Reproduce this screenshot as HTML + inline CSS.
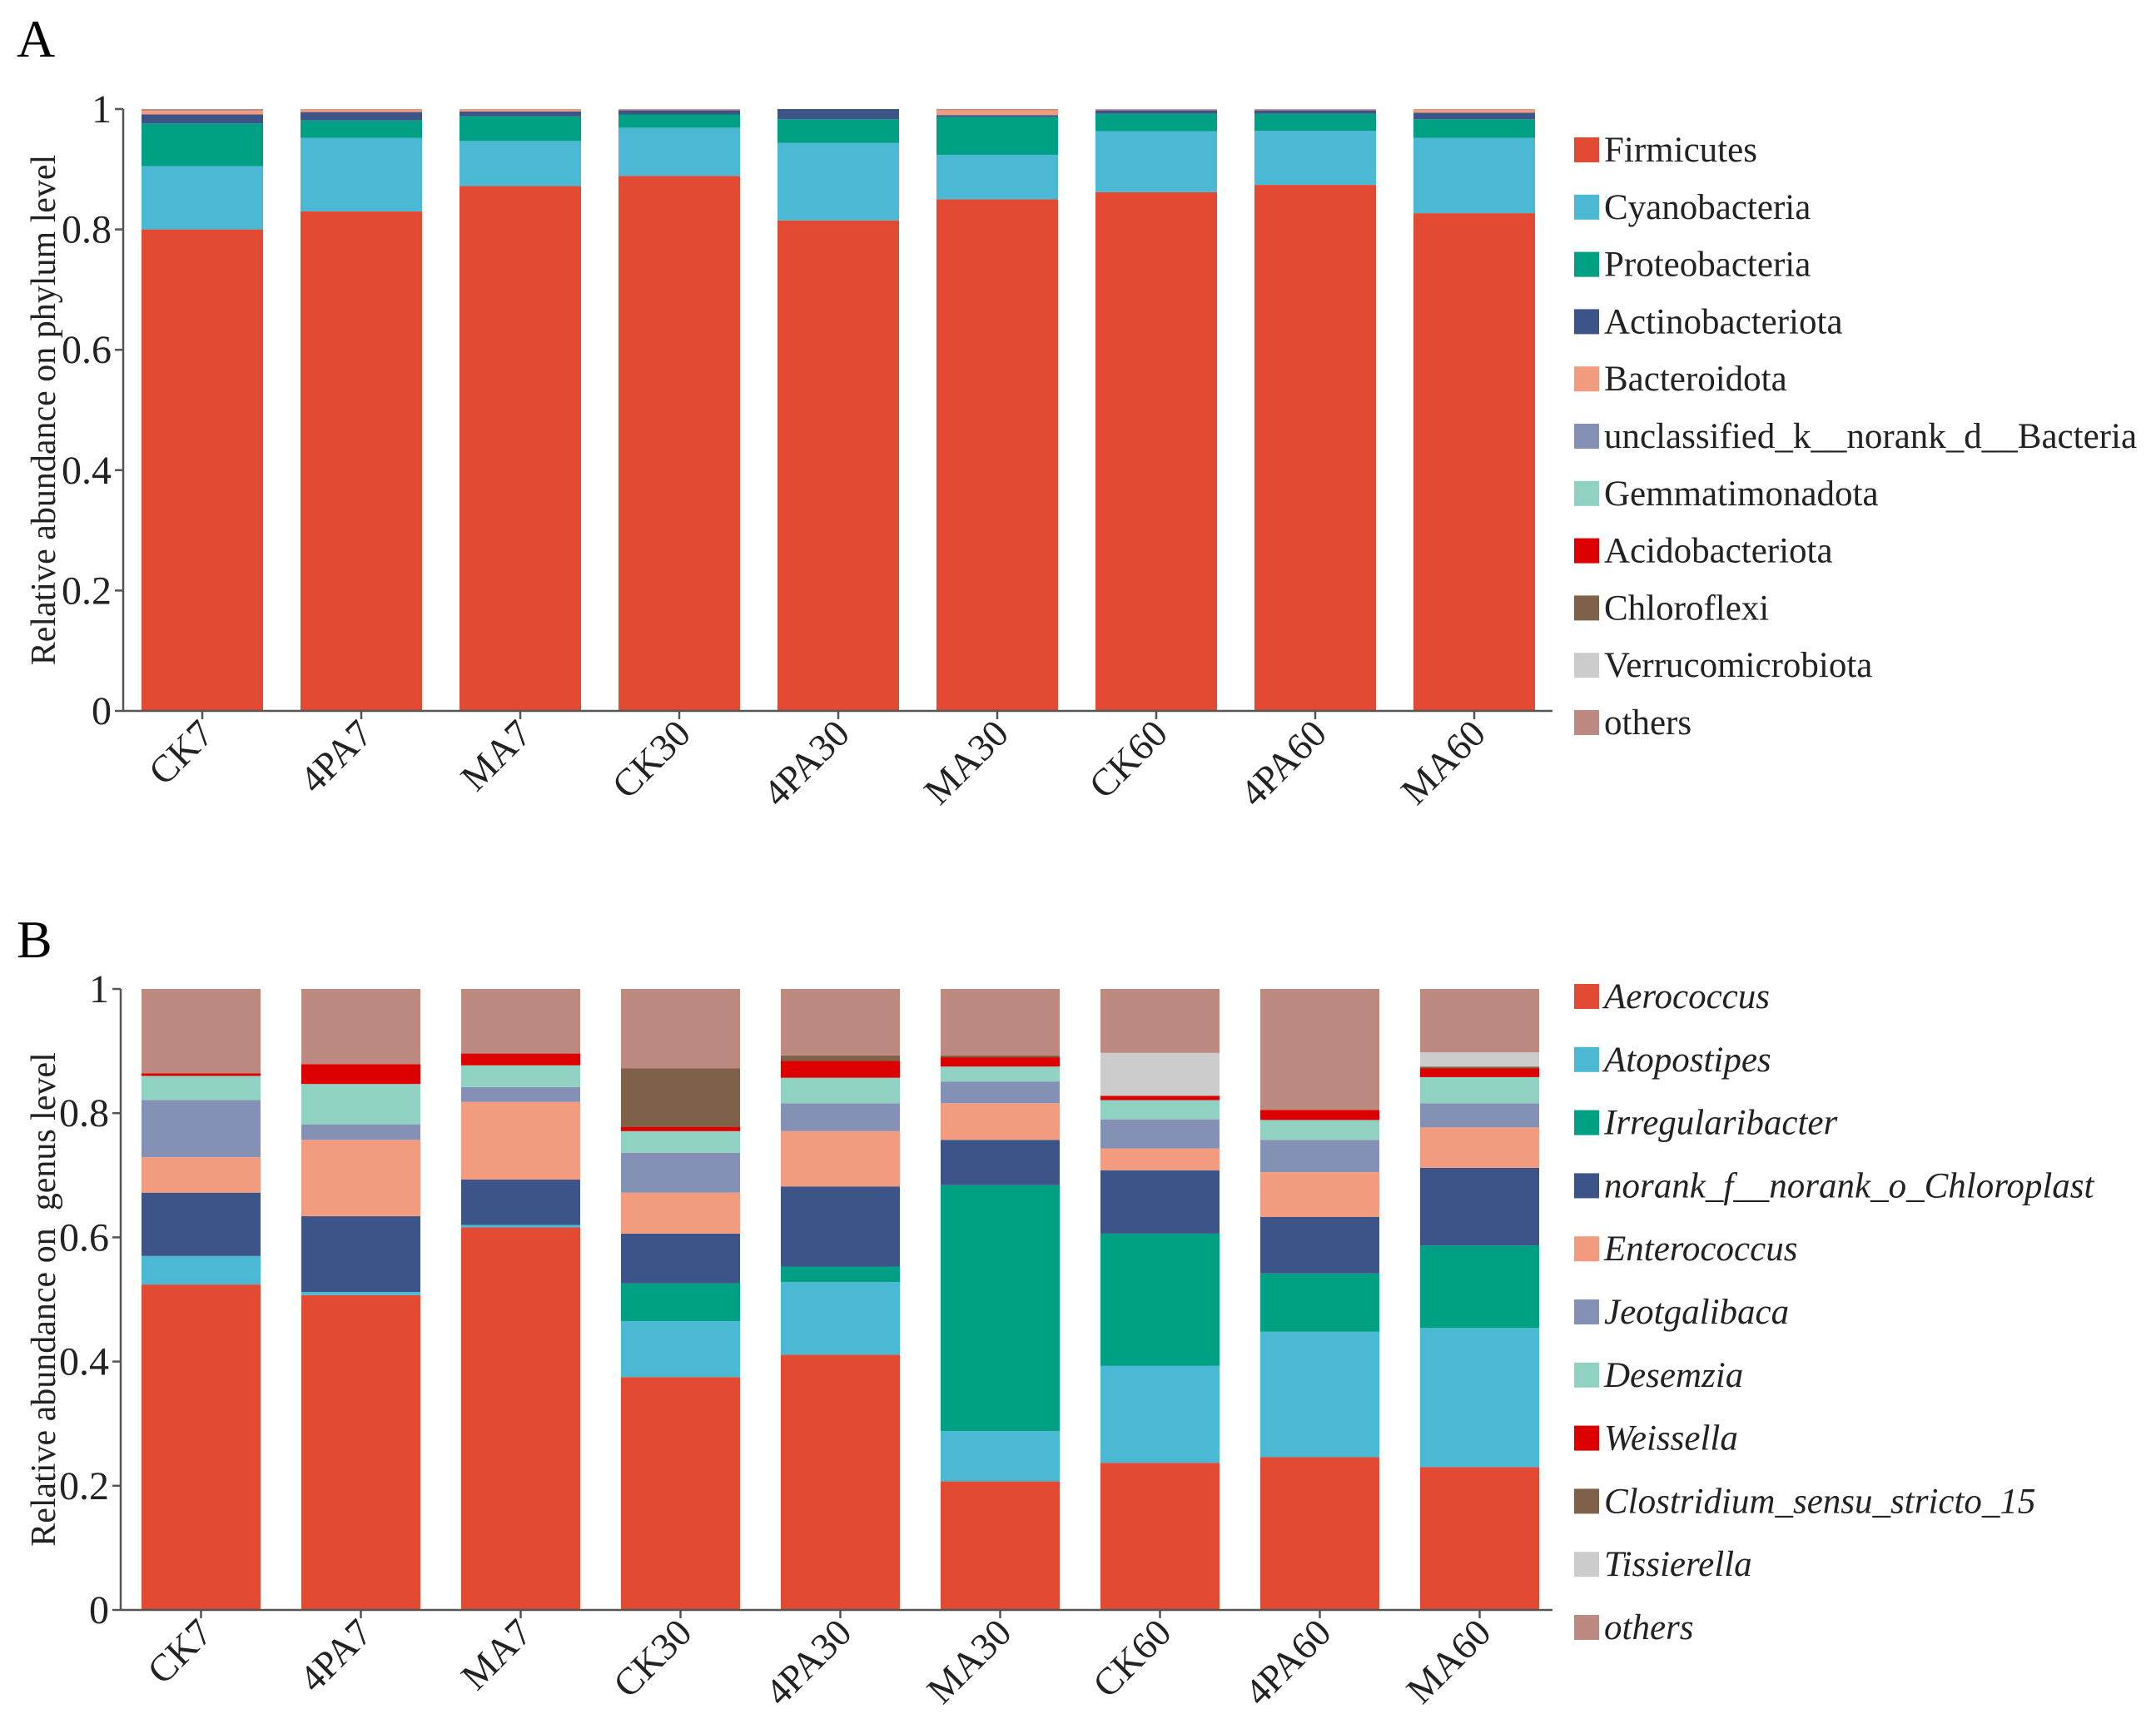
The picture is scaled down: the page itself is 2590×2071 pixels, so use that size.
<!DOCTYPE html>
<html><head><meta charset="utf-8"><style>
html,body{margin:0;padding:0;background:#fff}
svg, svg text{font-family:"Liberation Serif","DejaVu Serif",serif !important}
</style></head><body>
<svg id="fig" width="2590" height="2066" viewBox="0 0 2590 2066" xmlns="http://www.w3.org/2000/svg" font-family="Liberation Serif, serif">
<text x="20" y="68" font-size="64" font-family="Liberation Serif, serif">A</text>
<text x="20" y="1150" font-size="64" font-family="Liberation Serif, serif">B</text>
<g id="chartA"></g>
<g id="chartB"></g>
</svg>
<script>
const samples = ["CK7","4PA7","MA7","CK30","4PA30","MA30","CK60","4PA60","MA60"];
const yTicks = [0,0.2,0.4,0.6,0.8,1];
const yTickLabels = ["0","0.2","0.4","0.6","0.8","1"];

const phylumNames = ["Firmicutes","Cyanobacteria","Proteobacteria","Actinobacteriota","Bacteroidota","unclassified_k__norank_d__Bacteria","Gemmatimonadota","Acidobacteriota","Chloroflexi","Verrucomicrobiota","others"];
const phylumColors = ["#e34a33","#4bb8d4","#00a085","#3c5488","#f39b7f","#8491b4","#91d1c2","#dc0000","#7e6148","#cccccc","#bc8a80"];
const firmicutes = [0.800,0.830,0.872,0.889,0.815,0.850,0.862,0.874,0.827];
const cyanobacteria = [0.105,0.122,0.075,0.080,0.129,0.074,0.101,0.090,0.125];
const proteobacteria = [0.071,0.029,0.041,0.022,0.039,0.063,0.029,0.028,0.031];
const actinobacteriota = [0.015,0.014,0.008,0.007,0.017,0.003,0.006,0.006,0.011];
const bacteroidota = [0.006,0.004,0.003,0.001,0.000,0.008,0.001,0.001,0.005];
const unclassifiedBacteria = [0,0,0,0,0,0,0,0,0];
const gemmatimonadota = [0,0,0,0,0,0,0,0,0];
const acidobacteriota = [0,0,0,0,0,0,0,0,0];
const chloroflexi = [0,0,0,0,0,0,0,0,0];
const verrucomicrobiota = [0,0,0,0,0,0,0,0,0];
const phylumOthers = [0.003,0.001,0.001,0.001,0.000,0.002,0.001,0.001,0.001];

const genusNames = ["Aerococcus","Atopostipes","Irregularibacter","norank_f__norank_o_Chloroplast","Enterococcus","Jeotgalibaca","Desemzia","Weissella","Clostridium_sensu_stricto_15","Tissierella","others"];
const genusColors = ["#e34a33","#4bb8d4","#00a085","#3c5488","#f39b7f","#8491b4","#91d1c2","#dc0000","#7e6148","#cccccc","#bc8a80"];
const aerococcus = [0.524,0.507,0.616,0.375,0.411,0.207,0.237,0.246,0.230];
const atopostipes = [0.046,0.005,0.004,0.090,0.117,0.081,0.156,0.202,0.224];
const irregularibacter = [0,0,0,0.061,0.025,0.396,0.213,0.094,0.133];
const noranChloroplast = [0.102,0.122,0.073,0.080,0.129,0.073,0.102,0.091,0.125];
const enterococcus = [0.057,0.123,0.125,0.066,0.089,0.059,0.035,0.072,0.065];
const jeotgalibaca = [0.092,0.025,0.024,0.064,0.045,0.035,0.047,0.052,0.039];
const desemzia = [0.039,0.065,0.035,0.035,0.041,0.024,0.031,0.032,0.042];
const weissella = [0.004,0.032,0.019,0.007,0.027,0.015,0.007,0.016,0.014];
const clostridium = [0,0,0,0.094,0.009,0.003,0,0,0.003];
const tissierella = [0,0,0,0,0,0,0.069,0,0.023];
const genusOthers = [0.136,0.121,0.104,0.128,0.107,0.107,0.103,0.195,0.102];

const phylumSeries = [firmicutes,cyanobacteria,proteobacteria,actinobacteriota,bacteroidota,unclassifiedBacteria,gemmatimonadota,acidobacteriota,chloroflexi,verrucomicrobiota,phylumOthers];
const genusSeries = [aerococcus,atopostipes,irregularibacter,noranChloroplast,enterococcus,jeotgalibaca,desemzia,weissella,clostridium,tissierella,genusOthers];

const NS="http://www.w3.org/2000/svg";
const FF="Liberation Serif, serif";
function mk(tag, parent, attrs){const e=document.createElementNS(NS,tag);for(const k in attrs)e.setAttribute(k,attrs[k]);if(tag==='text')e.setAttribute('font-family',FF);parent.appendChild(e);return e;}

function drawChart(g, cfg){
  const yS = v => cfg.y0 - v*(cfg.y0-cfg.y1);
  const xS = i => cfg.barStart + i*cfg.pitch;
  samples.forEach((s,i)=>{
    let acc=0;
    cfg.series.forEach((ser,k)=>{
      const v=ser[i]; if(v<=0){return;}
      const top=yS(acc+v), bot=yS(acc);
      const r=mk('rect',g,{x:xS(i),y:top,width:cfg.barW,height:Math.max(0,bot-top),fill:cfg.colors[k]});
      
      
      acc+=v;
    });
  });
  const ya=mk('line',g,{x1:cfg.axisX,y1:cfg.y1,x2:cfg.axisX,y2:cfg.y0,stroke:'#555','stroke-width':2.5});
  
  
  const xa=mk('line',g,{x1:cfg.axisX,y1:cfg.y0,x2:cfg.axisEnd,y2:cfg.y0,stroke:'#555','stroke-width':2.5});
  
  
  yTicks.forEach((t,j)=>{
    mk('line',g,{x1:cfg.axisX-10,y1:yS(t),x2:cfg.axisX,y2:yS(t),stroke:'#555','stroke-width':2.5});
    const tx=mk('text',g,{x:cfg.axisX-14,y:yS(t)+16,'font-size':48,'text-anchor':'end',fill:'#222'});
    tx.textContent=yTickLabels[j];
    
    
  });
  samples.forEach((s,i)=>{
    const cx=xS(i)+cfg.barW/2;
    mk('line',g,{x1:cx,y1:cfg.y0,x2:cx,y2:cfg.y0+10,stroke:'#555','stroke-width':2.5});
    const tx=mk('text',g,{x:0,y:0,'font-size':46,'text-anchor':'end',fill:'#222',transform:`translate(${cx+16},${cfg.y0+30}) rotate(-45)`});
    tx.textContent=s;
    
    
  });
  const yt=mk('text',g,{x:0,y:0,'font-size':42,'text-anchor':'middle',fill:'#222',transform:`translate(${cfg.titleX},${(cfg.y0+cfg.y1)/2}) rotate(-90)`});
  yt.style.whiteSpace='pre';
  yt.textContent=cfg.title;
  
  
  cfg.names.forEach((n,k)=>{
    const cy=cfg.legY+k*cfg.legStep;
    const lg=mk('g',g,{});
    
    
    mk('rect',lg,{x:1891,y:cy-15,width:30,height:30,fill:cfg.colors[k]});
    const tx=mk('text',lg,{x:1927,y:cy+14,'font-size':43,fill:'#222','font-style':cfg.italic?'italic':'normal'});
    tx.textContent=n;
  });
}

drawChart(document.getElementById('chartA'),{series:phylumSeries,colors:phylumColors,names:phylumNames,y0:854,y1:131,axisX:148,axisEnd:1865,barStart:170,pitch:191,barW:146,titleX:66,title:"Relative abundance on phylum level",legY:180,legStep:68.8,italic:false});
drawChart(document.getElementById('chartB'),{series:genusSeries,colors:genusColors,names:genusNames,y0:1934,y1:1188,axisX:145,axisEnd:1865,barStart:170,pitch:192,barW:143,titleX:66,title:"Relative abundance on  genus level",legY:1197,legStep:75.8,italic:true});
</script>
</body></html>
